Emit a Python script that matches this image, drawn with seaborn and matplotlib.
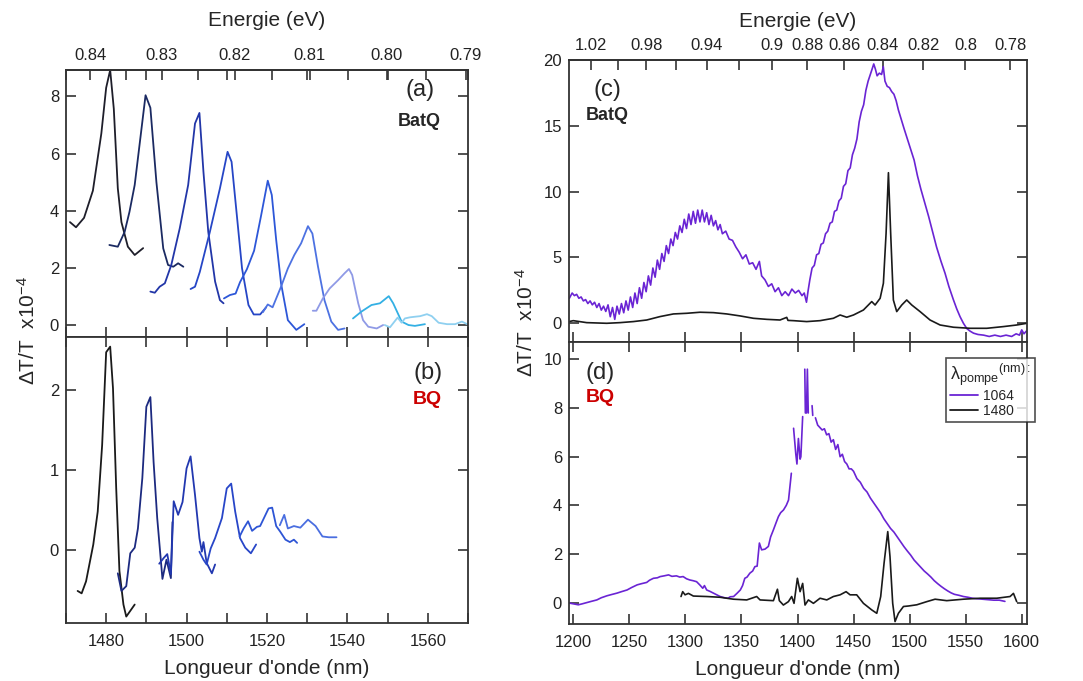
import numpy as np
import pandas as pd
import matplotlib
matplotlib.use("Agg")
import matplotlib.pyplot as plt
import seaborn as sns
from matplotlib.lines import Line2D
from matplotlib.ticker import MultipleLocator, FixedLocator

sns.set_theme(style="ticks")
plt.rcParams['font.family'] = ['Liberation Sans', 'DejaVu Sans']
plt.rcParams['mathtext.fontset'] = 'custom'
plt.rcParams['mathtext.rm'] = 'Liberation Sans'
plt.rcParams['mathtext.it'] = 'Liberation Sans:italic'
plt.rcParams['mathtext.bf'] = 'Liberation Sans:bold'

# ======================================
# Data (a) : BatQ, successive pump wavelengths
# ======================================
a_x = [
    [1471, 1472.5, 1474.5, 1476.7, 1478.8, 1480, 1481, 1481.9, 1482.9, 1483.8, 1485.4, 1487.1, 1489.2],
    [1480.8, 1482.9, 1484.6, 1485.8, 1487.1, 1488.5, 1489.8, 1491, 1492.5, 1494.2, 1495.4, 1496.7, 1497.9, 1499.2],
    [1491, 1492.1, 1493.3, 1494.6, 1496.2, 1498.3, 1500.4, 1502.1, 1503.2, 1504.2, 1505.4, 1507.1, 1508.3, 1509.2],
    [1501, 1502.1, 1503.3, 1505.8, 1508.3, 1510.2, 1511.2, 1512.5, 1513.8, 1515.4, 1516.7, 1518.3, 1519.8],
    [1509.3, 1510.8, 1512.2, 1513.3, 1515, 1516.8, 1518.5, 1520.2, 1521.2, 1522.3, 1523.5, 1525.2, 1527.3, 1529.3],
    [1519, 1520.2, 1521.4, 1523.5, 1525.2, 1526.8, 1528.5, 1530.2, 1531.3, 1532.7, 1534.3, 1536, 1537.7, 1539.3],
    [1531.4, 1532.3, 1533.9, 1535.6, 1537.7, 1539.3, 1540.4, 1541.2, 1542.7, 1543.9, 1545.2, 1547.3, 1548.9],
    [1541.4, 1543.5, 1546, 1548.1, 1550.3, 1551.4, 1553.5, 1555.2, 1556.8, 1559.3],
    [1549.3, 1550.6, 1552.5, 1553.5, 1554.3, 1555.6, 1556.8, 1558.1, 1559.8, 1561, 1562.7, 1564.8, 1566.8, 1568.5, 1569.8],
]
a_y = [
    [3.6, 3.42, 3.75, 4.7, 6.7, 8.3, 8.92, 7.57, 4.78, 3.6, 2.74, 2.45, 2.69],
    [2.8, 2.74, 3.26, 3.96, 4.9, 6.53, 8.04, 7.6, 5.0, 2.68, 2.1, 2.04, 2.16, 2.04],
    [1.17, 1.13, 1.34, 1.46, 2.1, 3.38, 4.9, 7.05, 7.42, 5.36, 3.26, 1.52, 0.87, 0.76],
    [1.26, 1.34, 1.86, 3.26, 4.78, 6.06, 5.71, 3.85, 1.98, 0.7, 0.37, 0.37, 0.62],
    [0.93, 1.05, 1.1, 1.5, 1.95, 2.6, 3.8, 5.05, 4.55, 2.97, 1.46, 0.17, -0.17, 0.03],
    [0.45, 0.72, 0.62, 1.34, 1.98, 2.45, 2.86, 3.46, 3.2, 2.04, 0.87, 0.12, -0.17, -0.12],
    [0.5, 0.5, 0.93, 1.28, 1.57, 1.81, 1.96, 1.75, 0.76, 0.17, -0.06, -0.12, 0.0],
    [0.23, 0.47, 0.7, 0.76, 1.01, 0.76, 0.12, 0.0, -0.03, 0.03],
    [0.0, -0.08, 0.26, 0.08, 0.23, 0.27, 0.29, 0.31, 0.38, 0.31, 0.08, 0.03, 0.03, 0.12, 0.03],
]
a_colors = ['#1e1e2a', '#1b2a62', '#2236a8', '#2646c6', '#2d57d8', '#4d72e2',
            '#8f9ae6', '#33b0e4', '#8fd0f0']

# ======================================
# Data (b) : BQ
# ======================================
b_x = [
    [1472.9, 1473.9, 1475, 1476.8, 1477.9, 1479, 1480, 1481, 1481.7, 1482.5, 1483.3, 1484.3, 1485, 1487.1],
    [1482.9, 1483.8, 1485, 1486, 1487.1, 1487.9, 1489, 1490, 1491, 1491.8, 1492.7, 1494, 1495, 1496.1, 1496.5],
    [1493.2, 1494.3, 1495.2, 1496.1, 1496.8, 1497.9, 1499, 1500, 1501, 1502.1, 1503.2, 1503.8, 1504.2, 1505, 1506.3, 1507.1],
    [1503.2, 1504.2, 1505, 1506, 1507.1, 1508.8, 1510, 1511.1, 1512.1, 1513.3, 1514.6, 1516, 1517.3],
    [1513.2, 1514.2, 1515.3, 1516.3, 1517.5, 1518.3, 1520.4, 1521.3, 1522.3, 1523.3, 1524.6, 1525.7, 1526.7, 1527.5],
    [1523.2, 1524.3, 1525.2, 1526.7, 1528.3, 1530.2, 1532.1, 1533.8, 1535.4, 1537.3],
]
b_y = [
    [-0.51, -0.54, -0.39, 0.07, 0.48, 1.31, 2.47, 2.54, 2.02, 0.77, -0.26, -0.68, -0.83, -0.68],
    [-0.29, -0.51, -0.45, -0.04, 0.03, 0.27, 0.9, 1.79, 1.91, 1.1, 0.4, -0.36, -0.12, -0.35, 0.35],
    [-0.17, -0.1, -0.05, -0.3, 0.61, 0.44, 0.6, 1.02, 1.17, 0.69, 0.15, -0.02, 0.1, -0.16, -0.29, -0.18],
    [-0.02, -0.12, -0.18, 0.02, 0.15, 0.4, 0.77, 0.83, 0.48, 0.15, 0.03, -0.04, 0.07],
    [0.17, 0.27, 0.36, 0.24, 0.29, 0.3, 0.52, 0.53, 0.3, 0.23, 0.13, 0.1, 0.13, 0.09],
    [0.31, 0.44, 0.27, 0.3, 0.28, 0.38, 0.3, 0.17, 0.16, 0.16],
]
b_colors = ['#1a1a1a', '#1c2a80', '#2238b0', '#2846c8', '#2e55d5', '#4a6ee0']

# ======================================
# Data (c) : BatQ, pump 1064 / 1480 nm
# ======================================
c1064_x = [1196.5, 1199, 1201, 1203, 1205, 1207, 1209, 1211, 1213, 1215, 1217, 1219, 1221, 1223,
           1225, 1227, 1229, 1231, 1233, 1235, 1237, 1239, 1241, 1243, 1245, 1247, 1249, 1251,
           1253, 1255, 1257, 1259, 1261, 1263, 1265, 1267, 1269, 1271, 1273, 1275, 1277, 1279,
           1281, 1283, 1285, 1287, 1289, 1291, 1293, 1295, 1297, 1299, 1301, 1303, 1305, 1307,
           1309, 1311, 1313, 1315, 1317, 1319, 1321, 1323, 1325, 1327, 1329, 1331, 1333, 1336,
           1339, 1342, 1345, 1348, 1351, 1354, 1357, 1360, 1363, 1366, 1368, 1371, 1374, 1377,
           1380, 1383, 1386, 1389, 1392, 1395, 1398, 1401, 1404, 1406, 1408, 1409.5, 1411, 1413,
           1415, 1417, 1419, 1421, 1423, 1425, 1427, 1429, 1431, 1433, 1435, 1437, 1439, 1441,
           1443, 1445, 1447, 1449, 1451, 1453, 1455, 1457, 1459, 1461, 1463, 1465, 1466.5, 1468,
           1469.5, 1471, 1473, 1475, 1476.5, 1478, 1480, 1482, 1484, 1486, 1488, 1490, 1492.5,
           1495, 1498, 1501, 1504, 1507, 1510, 1513, 1517, 1521, 1524, 1528, 1531.6, 1535, 1539,
           1542, 1545, 1548, 1551, 1554, 1557, 1561, 1566, 1571, 1576, 1581, 1586, 1591, 1595,
           1598, 1600, 1602, 1604]
c1064_y = [1.9, 2.3, 2.1, 2.2, 1.9, 2.0, 1.7, 1.8, 1.5, 1.7, 1.4, 1.6, 1.2, 1.5,
           1.0, 1.3, 0.9, 1.4, 0.5, 1.2, 0.3, 1.3, 0.7, 1.5, 0.8, 1.7, 1.0, 2.0,
           1.2, 2.3, 1.5, 2.7, 1.9, 3.1, 2.4, 3.6, 2.9, 4.2, 3.5, 4.8, 4.1, 5.3,
           4.7, 5.9, 5.3, 6.4, 5.9, 6.9, 6.4, 7.4, 6.9, 7.9, 7.2, 8.3, 7.5, 8.5,
           7.6, 8.6, 7.7, 8.6, 7.7, 8.4, 7.5, 8.2, 7.4, 7.8, 7.1, 7.5, 6.8, 7.0,
           6.4, 6.3, 5.8, 5.4, 4.9, 5.2, 4.5, 4.6, 4.1, 4.7, 3.6, 3.3, 2.8, 3.0,
           2.4, 2.7, 2.1, 2.4, 2.1, 2.6, 2.3, 2.5, 2.1, 2.3, 1.6, 2.5, 3.3, 4.2,
           4.4, 5.2, 5.3, 6.0, 6.1, 6.8, 7.0, 7.6, 7.7, 8.5, 8.6, 9.3, 9.5, 10.4,
           10.6, 11.6, 11.8, 12.8, 13.3, 14.0, 15.3, 16.1, 16.6, 17.7, 18.4, 18.9, 19.3, 19.7,
           19.3, 18.8, 19.0, 18.9, 19.5, 18.4, 18.0, 17.9, 17.6, 17.4, 16.9, 16.2, 15.5,
           14.8, 14.0, 13.2, 12.4, 11.2, 10.2, 9.3, 8.1, 6.8, 5.8, 4.7, 3.8, 2.8, 1.8,
           1.1, 0.5, 0.0, -0.4, -0.6, -0.75, -0.85, -0.9, -1.0, -0.9, -1.0, -0.9, -1.0, -0.8,
           -0.9, -0.5, -0.8, -0.6]

c1480_x = [1196.2, 1200, 1212, 1229.8, 1241.7, 1253.6, 1265.5, 1277.4, 1289.3, 1301.2, 1313.1,
           1325, 1336.9, 1348.8, 1360.7, 1372.6, 1384.4, 1390.4, 1391.5, 1396.4, 1408.2, 1420.1,
           1432, 1438, 1443.9, 1449.9, 1458.8, 1466.2, 1469.2, 1473.7, 1476.6, 1479, 1481.1,
           1483.1, 1485.5, 1488.5, 1493, 1497.4, 1501.9, 1509.3, 1518.2, 1527.2, 1539.1, 1554,
           1568.8, 1583.7, 1595.5, 1604.5]
c1480_y = [0.13, 0.2, 0.05, 0.0, 0.05, 0.13, 0.25, 0.51, 0.71, 0.76, 0.84,
           0.81, 0.71, 0.56, 0.38, 0.3, 0.25, 0.45, 0.22, 0.2, 0.13, 0.2,
           0.38, 0.63, 0.46, 0.63, 1.01, 1.65, 1.39, 1.9, 3.04, 6.83, 11.44,
           6.83, 1.77, 0.89, 1.39, 1.77, 1.39, 0.89, 0.25, -0.13, -0.3, -0.38,
           -0.38, -0.25, -0.13, 0.0]

# ======================================
# Data (d) : BQ, pump 1064 / 1480 nm (nan = gap in the recorded trace)
# ======================================
d1064_x = [1196.5, 1200, 1204.5, 1208, 1212, 1216, 1221, 1225, 1230, 1234, 1239, 1243, 1248, 1252,
           1257, 1261, 1265.5, 1268, 1271.5, 1275, 1277.5, 1281, 1285, 1288, 1292, 1295, 1298,
           1301, 1304, 1307, 1310, 1313, 1315.5, 1317, 1319, 1322, 1325, 1328, 1331, 1335, 1338,
           1340, 1343, 1346, 1349, 1351, 1353, 1355, 1357.5, 1360, 1362, 1364, 1366, 1368, 1371,
           1374, 1376, 1378.5, 1381, 1383, 1385, 1387.5, 1390, 1392, 1394.5, np.nan,
           1396.5, 1398.5, 1399.5, 1400.8, 1402.3, 1403, 1404.6, np.nan,
           1406.5, 1407, 1408, 1408.8, 1409.6, np.nan, 1413, 1413.6, np.nan,
           1416, 1418, 1420, 1422, 1424, 1426, 1428, 1430, 1432, 1434, 1436, 1438, 1440, 1442,
           1444, 1446, 1448, 1450, 1453, 1456, 1459, 1462, 1465, 1468, 1471, 1474, 1477, 1480,
           1483, 1486, 1489, 1492, 1495, 1498, 1501, 1504, 1507, 1510, 1513, 1516, 1519, 1522,
           1525, 1528, 1531, 1534, 1537, 1540, 1544, 1548, 1552, 1556, 1560, 1565, 1570, 1575,
           1580, 1585]
d1064_y = [-0.02, -0.05, -0.09, -0.05, 0.0, 0.05, 0.11, 0.2, 0.28, 0.33, 0.39, 0.45, 0.52, 0.62,
           0.73, 0.78, 0.83, 0.92, 1.0, 1.02, 1.07, 1.1, 1.14, 1.08, 1.1, 1.05, 1.07,
           0.98, 0.93, 0.9, 0.86, 0.72, 0.59, 0.7, 0.52, 0.46, 0.39, 0.32, 0.25, 0.2, 0.18,
           0.24, 0.25, 0.38, 0.52, 0.7, 1.0, 1.05, 1.21, 1.3, 1.48, 1.5, 2.45, 2.17, 2.2,
           2.31, 2.7, 2.99, 3.3, 3.54, 3.7, 3.81, 4.0, 4.22, 5.32, np.nan,
           7.17, 6.1, 5.7, 6.75, 5.9, 6.0, 7.65, np.nan,
           9.6, 7.8, 7.8, 9.6, 7.8, np.nan, 8.1, 7.7, np.nan,
           7.6, 7.3, 7.2, 7.1, 7.15, 6.9, 6.95, 6.6, 6.7, 6.3, 6.5, 6.0, 6.1, 5.8,
           5.7, 5.5, 5.5, 5.4, 5.1, 4.95, 4.7, 4.55, 4.3, 4.1, 3.9, 3.7, 3.45, 3.25,
           3.05, 2.9, 2.7, 2.5, 2.3, 2.12, 1.95, 1.75, 1.6, 1.45, 1.3, 1.18, 1.05, 0.9,
           0.78, 0.67, 0.57, 0.48, 0.4, 0.34, 0.3, 0.25, 0.22, 0.18, 0.16, 0.14, 0.12, 0.1,
           0.1, 0.05]

d1480_x = [1296.1, 1297.6, 1299.7, 1302.7, 1307.1, 1319, 1330.9, 1342.8, 1354.7, 1363.6, 1366.6,
           1378.5, 1382.1, 1383.8, 1387.4, 1391.9, 1394.8, 1396.9, 1399.9, 1402.3, 1404.6,
           1406.7, 1409.7, 1414.2, 1420.1, 1426.1, 1432, 1438, 1443.3, 1446.9, 1452.8, 1458.8,
           1466.2, 1470.7, 1474.2, 1477.2, 1480.5, 1482.5, 1484.9, 1487, 1490, 1494.5, 1498.9,
           1506.4, 1515.3, 1522.7, 1533.1, 1548, 1562.9, 1577.7, 1589.6, 1592.6, 1595.5]
d1480_y = [0.25, 0.45, 0.32, 0.38, 0.27, 0.25, 0.22, 0.14, 0.11, 0.25, 0.11,
           0.08, 0.55, 0.08, -0.1, 0.04, 0.25, -0.03, 1.0, 0.45, 0.79,
           -0.1, 0.11, -0.03, 0.18, 0.11, 0.25, 0.32, 0.45, 0.32, 0.32, -0.03,
           -0.3, -0.44, 0.25, 1.62, 2.92, 1.89, -0.03, -0.78, -0.44, -0.16, -0.14,
           -0.09, 0.04, 0.14, 0.08, 0.14, 0.18, 0.18, 0.25, 0.38, 0.04]

pump_labels = ['1064', '1480']

purple = '#6a24d4'
black = '#1a1a1a'
spine_col = '#333333'


def long_df(xs, ys):
    frames = []
    for i, (x, y) in enumerate(zip(xs, ys)):
        frames.append(pd.DataFrame({'nm': x, 'dt': y, 'curve': f"c{i}"}))
    return pd.concat(frames, ignore_index=True)


def seg_df(x, y):
    df = pd.DataFrame({'nm': x, 'dt': y})
    df['seg'] = df['dt'].isna().cumsum()
    return df.dropna()


def nm_ev(v):
    v = np.asarray(v, dtype=float)
    with np.errstate(divide='ignore', invalid='ignore'):
        return 1239.84 / v


def style_axes(ax):
    for s in ax.spines.values():
        s.set_visible(True)
        s.set_color(spine_col)
        s.set_linewidth(1.3)
    ax.tick_params(which='both', direction='in', length=7, width=1.2,
                   color=spine_col, labelsize=12, pad=5, top=True, right=True,
                   labelcolor='#222222')
    ax.tick_params(axis='x', which='both', pad=8)
    ax.set_xlabel('')
    ax.set_ylabel('')


fig = plt.figure(figsize=(10.83, 6.81), dpi=100)

ax_a = fig.add_axes([0.0609, 0.5051, 0.3712, 0.392])
ax_b = fig.add_axes([0.0609, 0.0852, 0.3712, 0.4199])
ax_c = fig.add_axes([0.5254, 0.4982, 0.4229, 0.4137])
ax_d = fig.add_axes([0.5254, 0.0837, 0.4229, 0.4145])

# ---- (a)
df_a = long_df(a_x, a_y)
sns.lineplot(data=df_a, x='nm', y='dt', hue='curve', palette=a_colors,
             hue_order=[f"c{i}" for i in range(len(a_x))], estimator=None,
             sort=False, legend=False, lw=1.3, ax=ax_a)
# ---- (b)
df_b = long_df(b_x, b_y)
sns.lineplot(data=df_b, x='nm', y='dt', hue='curve', palette=b_colors,
             hue_order=[f"c{i}" for i in range(len(b_x))], estimator=None,
             sort=False, legend=False, lw=1.3, ax=ax_b)

for ax in (ax_a, ax_b):
    style_axes(ax)
    ax.set_xlim(1470, 1570)
    ax.xaxis.set_major_locator(MultipleLocator(20))
    ax.xaxis.set_minor_locator(MultipleLocator(10))
ax_a.set_ylim(-0.42, 8.92)
ax_a.set_yticks([0, 2, 4, 6, 8])
ax_a.tick_params(axis='x', top=False, labelbottom=False)
ax_b.set_ylim(-0.91, 2.66)
ax_b.set_yticks([0, 1, 2])
ax_b.set_xlabel("Longueur d'onde (nm)", fontsize=15, labelpad=7)

sec_a = ax_a.secondary_xaxis('top', functions=(nm_ev, nm_ev))
sec_a.xaxis.set_major_locator(FixedLocator([0.84, 0.83, 0.82, 0.81, 0.80, 0.79]))
sec_a.set_xticklabels(['0.84', '0.83', '0.82', '0.81', '0.80', '0.79'])
sec_a.xaxis.set_minor_locator(FixedLocator([0.835, 0.825, 0.815, 0.805, 0.795]))
sec_a.tick_params(which='both', direction='in', length=7, width=1.2,
                  color=spine_col, labelsize=12, pad=5, labelcolor='#222222')
sec_a.set_xlabel('Energie (eV)', fontsize=15, labelpad=16)

# ---- (c)
sns.lineplot(x=c1064_x, y=c1064_y, color=purple, lw=1.2, estimator=None,
             sort=False, ax=ax_c)
sns.lineplot(x=c1480_x, y=c1480_y, color=black, lw=1.2, estimator=None,
             sort=False, ax=ax_c)
# ---- (d)
df_d1064 = seg_df(d1064_x, d1064_y)
sns.lineplot(data=df_d1064, x='nm', y='dt', units='seg', color=purple, lw=1.2,
             estimator=None, sort=False, ax=ax_d)
sns.lineplot(x=d1480_x, y=d1480_y, color=black, lw=1.2, estimator=None,
             sort=False, ax=ax_d)

for ax in (ax_c, ax_d):
    style_axes(ax)
    ax.set_xlim(1196.2, 1604.7)
    ax.xaxis.set_major_locator(MultipleLocator(50))
ax_c.set_ylim(-1.4, 20)
ax_c.set_yticks([0, 5, 10, 15, 20])
ax_c.tick_params(axis='x', top=False, labelbottom=False)
ax_d.set_ylim(-0.88, 10.73)
ax_d.set_yticks([0, 2, 4, 6, 8, 10])
ax_d.set_xlabel("Longueur d'onde (nm)", fontsize=15, labelpad=7)

ev_ticks = [1.02, 1.00, 0.98, 0.96, 0.94, 0.92, 0.90, 0.88, 0.86, 0.84, 0.82, 0.80, 0.78]
ev_labels = ['1.02', '', '0.98', '', '0.94', '', '0.9', '0.88', '0.86', '0.84', '0.82', '0.8', '0.78']
sec_c = ax_c.secondary_xaxis('top', functions=(nm_ev, nm_ev))
sec_c.xaxis.set_major_locator(FixedLocator(ev_ticks))
sec_c.set_xticklabels(ev_labels)
sec_c.tick_params(which='both', direction='in', length=7, width=1.2,
                  color=spine_col, labelsize=12, pad=5, labelcolor='#222222')
sec_c.set_xlabel('Energie (eV)', fontsize=15, labelpad=8)

# ---- legend (d); trailing spaces widen the box to hold the title
handles = [Line2D([], [], color=purple, lw=1.3, label=pump_labels[0] + ' ' * 4),
           Line2D([], [], color=black, lw=1.3, label=pump_labels[1] + ' ' * 4)]
leg = ax_d.legend(handles=handles,
                  title=r"λ$_{\mathrm{pompe}}{}^{\mathrm{(nm):}}$",
                  loc='upper right', bbox_to_anchor=(0.962, 0.485),
                  bbox_transform=fig.transFigure, fontsize=10, title_fontsize=13,
                  frameon=True, fancybox=False, edgecolor='#222222',
                  handlelength=2.0, handletextpad=0.4, labelspacing=0.05,
                  borderpad=0.3, alignment='left')
leg.get_frame().set_linewidth(1.2)

# ---- panel labels
fig.text(0.388, 0.868, '(a)', fontsize=17, ha='center', va='center')
fig.text(0.387, 0.821, 'BatQ', fontsize=13, fontweight='bold', ha='center', va='center')
fig.text(0.395, 0.452, '(b)', fontsize=17, ha='center', va='center')
fig.text(0.395, 0.413, 'BQ', fontsize=14, fontweight='bold', color='#cc0000',
         ha='center', va='center')
fig.text(0.561, 0.868, '(c)', fontsize=17, ha='center', va='center')
fig.text(0.561, 0.831, 'BatQ', fontsize=13, fontweight='bold', ha='center', va='center')
fig.text(0.554, 0.452, '(d)', fontsize=17, ha='center', va='center')
fig.text(0.554, 0.417, 'BQ', fontsize=14, fontweight='bold', color='#cc0000',
         ha='center', va='center')

fig.text(0.026, 0.515, r"ΔT/T  x10$^{-4}$", fontsize=15, rotation=90,
         ha='center', va='center')
fig.text(0.486, 0.527, r"ΔT/T  x10$^{-4}$", fontsize=15, rotation=90,
         ha='center', va='center')

fig.savefig("out.png", dpi=100)
